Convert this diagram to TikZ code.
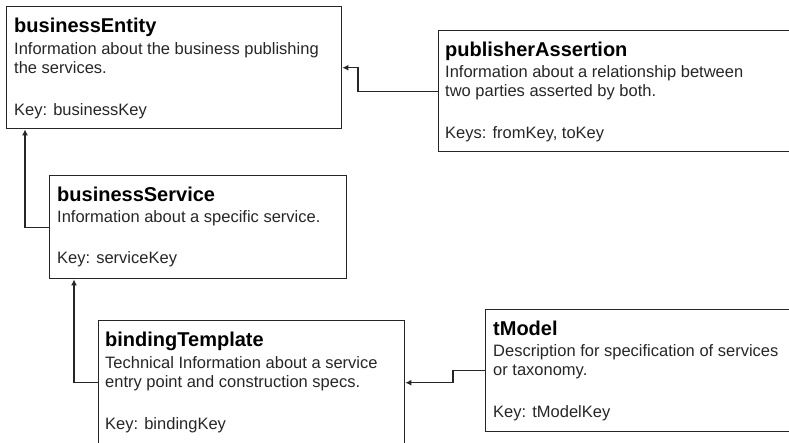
\documentclass[tikz,border=0pt]{standalone}
\usepackage{fontspec}
\setmainfont{Liberation Sans}
\usetikzlibrary{arrows.meta}

\begin{document}
\begin{tikzpicture}[x=1pt, y=-1pt,
		entity/.style={draw=black!85, line width=1.4pt, rectangle, anchor=north west, inner sep=0pt},
		title/.style={anchor=base west, inner sep=0pt, font=\fontsize{20}{24}\selectfont\bfseries},
		info/.style={anchor=base west, inner sep=0pt, text=black!85, font=\fontsize{16.5}{19.5}\selectfont},
		link/.style={draw=black!85, line width=1.1pt, -{Latex[length=6pt,width=6pt]}}]
		\useasboundingbox (0,0) rectangle (789,442);
		\clip (0,0) rectangle (789,442);

		% businessEntity
		\begin{scope}[shift={(6,6)}]
			\node[entity, minimum width=335pt, minimum height=122pt] (bE) at (0,0) {};
			\node[title] (bEt) at (8,26) {businessEntity};
			\node[info] (bEa) at (8,48) {Information about the business publishing};
			\node[info] (bEb) at (8,67) {the services.};
			\node[info] (bEk) at (8,109) {Key: businessKey};
		\end{scope}

		% publisherAssertion
		\begin{scope}[shift={(438,30)}]
			\node[entity, minimum width=364pt, minimum height=121pt] (pA) at (0,0) {};
			\node[title] (pAt) at (7,26) {publisherAssertion};
			\node[info] (pAa) at (7,47) {Information about a relationship between};
			\node[info] (pAb) at (7,66) {two parties asserted by both.};
			\node[info] (pAk) at (7,108) {Keys: fromKey, toKey};
		\end{scope}

		% businessService
		\begin{scope}[shift={(49,175)}]
			\node[entity, minimum width=297pt, minimum height=103pt] (bS) at (0,0) {};
			\node[title] (bSt) at (8,26) {businessService};
			\node[info] (bSa) at (8,47) {Information about a specific service.};
			\node[info] (bSk) at (8,88) {Key: serviceKey};
		\end{scope}

		% bindingTemplate
		\begin{scope}[shift={(98,320)}]
			\node[entity, minimum width=306pt, minimum height=124pt] (bT) at (0,0) {};
			\node[title] (bTt) at (7,26) {bindingTemplate};
			\node[info] (bTa) at (7,48) {Technical Information about a service};
			\node[info] (bTb) at (7,67) {entry point and construction specs.};
			\node[info] (bTk) at (7,109) {Key: bindingKey};
		\end{scope}

		% tModel
		\begin{scope}[shift={(485,309)}]
			\node[entity, minimum width=317pt, minimum height=122pt] (tM) at (0,0) {};
			\node[title] (tMt) at (8,26) {tModel};
			\node[info] (tMa) at (8,47) {Description for specification of services};
			\node[info] (tMb) at (8,66) {or taxonomy.};
			\node[info] (tMk) at (8,108) {Key: tModelKey};
		\end{scope}

		% connectors
		\draw[link] (pA.west) -- ++(-80,0) |- (bE.east);
		\draw[link] (bS.west) -| ([xshift=19pt]bE.south west);
		\draw[link] (bT.west) -| ([xshift=25pt]bS.south west);
		\draw[link] (tM.west) -- ++(-32,0) |- (bT.east);
	\end{tikzpicture}
\end{document}
